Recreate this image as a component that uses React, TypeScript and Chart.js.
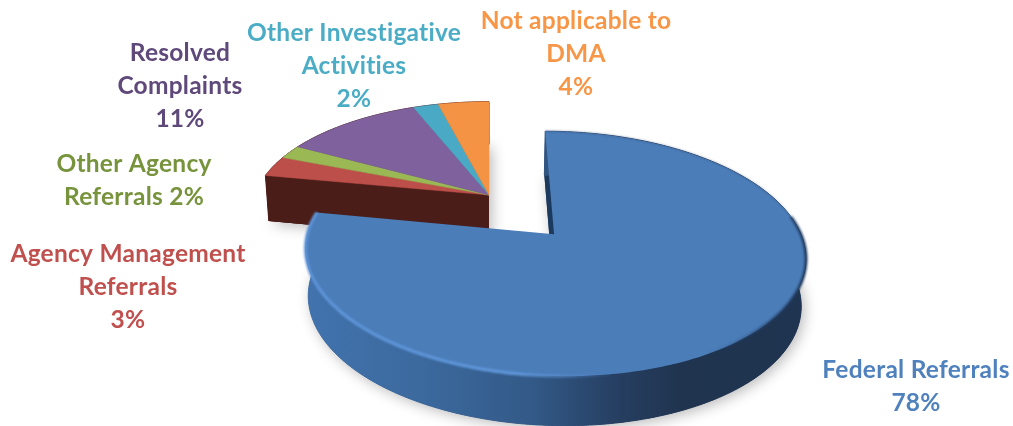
import React, { useEffect, useRef } from "react";
import { Chart, registerables } from "chart.js";

Chart.register(...registerables);

const categories = [
  "Federal Referrals",
  "Agency Management Referrals",
  "Other Agency Referrals",
  "Resolved Complaints",
  "Other Investigative Activities",
  "Not applicable to DMA",
];
const percentValues = [78, 3, 2, 11, 2, 4];
const sliceColors = ["#4b7db9", "#bd4f4b", "#9ab955", "#7e619d", "#4aa9c4", "#f39343"];
const labelColors = ["#4f81bd", "#c0504d", "#77933c", "#5f497a", "#4bacc6", "#f79646"];
const labelLines = [
  ["Federal Referrals", "78%"],
  ["Agency Management", "Referrals", "3%"],
  ["Other Agency", "Referrals 2%"],
  ["Resolved", "Complaints", "11%"],
  ["Other Investigative", "Activities", "2%"],
  ["Not applicable to", "DMA", "4%"],
];

const WIDTH = 1013;
const HEIGHT = 426;
const labelAnchors = [
  { x: 916, y: 370 },
  { x: 128, y: 254 },
  { x: 134, y: 164 },
  { x: 180, y: 53 },
  { x: 354, y: 33 },
  { x: 576, y: 21 },
];
const view = { x0: 489, y0: 195, a: 234, b: 107.3, k: 0.15, shrink: 0.985, depth: 46, explodeY: 1.09 };
const LINE_H = 32.8;

function project(u: number, v: number, z: number) {
  const w = 1 - view.k * v;
  const s = z ? view.shrink : 1;
  return {
    x: view.x0 + (view.a * s * u) / w,
    y: view.y0 + (view.b * s * v) / w + z * view.depth * (1 + 0.1 * v),
  };
}

function geometry(el: any) {
  const R = el.outerRadius;
  const mid = (el.startAngle + el.endAngle) / 2;
  const off = el.options.offset || 0;
  const cu = (Math.cos(mid) * off) / R;
  const cv = ((Math.sin(mid) * off) / R) * view.explodeY;
  const at = (angle: number, z: number) => project(cu + Math.cos(angle), cv + Math.sin(angle), z);
  return { at, apex: (z: number) => project(cu, cv, z), start: el.startAngle, end: el.endAngle };
}

function rimPath(ctx: CanvasRenderingContext2D, g: any, from: number, to: number, z: number, move = true) {
  const steps = Math.max(2, Math.ceil(Math.abs(to - from) / 0.015));
  for (let i = 0; i <= steps; i++) {
    const p = g.at(from + ((to - from) * i) / steps, z);
    if (i === 0 && move) ctx.moveTo(p.x, p.y);
    else ctx.lineTo(p.x, p.y);
  }
}

function slicePath(ctx: CanvasRenderingContext2D, g: any, z: number) {
  ctx.beginPath();
  const a = g.apex(z);
  ctx.moveTo(a.x, a.y);
  rimPath(ctx, g, g.start, g.end, z, false);
  ctx.closePath();
}

function fillRimWall(ctx: CanvasRenderingContext2D, g: any, style: any) {
  ctx.fillStyle = style;
  ctx.strokeStyle = style;
  ctx.lineWidth = 1;
  ctx.beginPath();
  rimPath(ctx, g, g.start, g.end, 0);
  rimPath(ctx, g, g.end, g.start, 1, false);
  ctx.closePath();
  ctx.fill();
  ctx.stroke();
}

function fillRadialWall(ctx: CanvasRenderingContext2D, g: any, angle: number, style: string) {
  const a0 = g.apex(0);
  const a1 = g.apex(1);
  const r0 = g.at(angle, 0);
  const r1 = g.at(angle, 1);
  ctx.fillStyle = style;
  ctx.beginPath();
  ctx.moveTo(a0.x, a0.y);
  ctx.lineTo(r0.x, r0.y);
  ctx.lineTo(r1.x, r1.y);
  ctx.lineTo(a1.x, a1.y);
  ctx.closePath();
  ctx.fill();
}

function castShadow(ctx: CanvasRenderingContext2D, g: any, color: string) {
  ctx.save();
  ctx.shadowColor = "rgba(0,0,0,0.28)";
  ctx.shadowBlur = 14;
  ctx.shadowOffsetX = 3;
  ctx.shadowOffsetY = 3;
  ctx.fillStyle = color;
  slicePath(ctx, g, 1);
  ctx.fill();
  ctx.restore();
}

const pie3d = {
  id: "pie3d",
  beforeDatasetsDraw(chart: any) {
    const ctx: CanvasRenderingContext2D = chart.ctx;
    const arcs = chart.getDatasetMeta(0).data;
    const gs = arcs.map(geometry);
    ctx.save();
    ctx.lineJoin = "round";

    const brown = "#4a1d19";
    for (let i = 1; i < gs.length; i++) castShadow(ctx, gs[i], brown);
    for (let i = 1; i < gs.length; i++) {
      fillRimWall(ctx, gs[i], brown);
      slicePath(ctx, gs[i], 1);
      ctx.fillStyle = brown;
      ctx.fill();
    }
    fillRadialWall(ctx, gs[1], gs[1].start, brown);
    for (let i = 1; i < gs.length; i++) {
      slicePath(ctx, gs[i], 0);
      ctx.fillStyle = sliceColors[i];
      ctx.fill();
      ctx.strokeStyle = sliceColors[i];
      ctx.lineWidth = 0.5;
      ctx.stroke();
    }

    const g = gs[0];
    castShadow(ctx, g, "#24406a");
    fillRadialWall(ctx, g, g.start, "#1c3a5e");
    const side = ctx.createLinearGradient(305, 0, 806, 0);
    side.addColorStop(0, "#4273ad");
    side.addColorStop(0.22, "#3c6a9f");
    side.addColorStop(0.45, "#335a88");
    side.addColorStop(0.62, "#263f62");
    side.addColorStop(0.75, "#20344f");
    side.addColorStop(1, "#1f3450");
    fillRimWall(ctx, g, side);

    slicePath(ctx, g, 0);
    ctx.fillStyle = sliceColors[0];
    ctx.fill();

    ctx.save();
    ctx.filter = "blur(0.8px)";
    const bevel = ctx.createLinearGradient(305, 0, 806, 0);
    bevel.addColorStop(0, "#5f96da");
    bevel.addColorStop(0.42, "#629ade");
    bevel.addColorStop(0.62, "rgba(90,140,205,0)");
    bevel.addColorStop(0.8, "rgba(40,70,110,0)");
    bevel.addColorStop(0.93, "rgba(36,62,100,0.7)");
    bevel.addColorStop(1, "#223c60");
    ctx.strokeStyle = bevel;
    ctx.lineWidth = 3;
    ctx.beginPath();
    rimPath(ctx, g, -0.15, g.end, 0);
    ctx.stroke();
    ctx.strokeStyle = "rgba(45,70,105,0.55)";
    ctx.lineWidth = 1;
    ctx.beginPath();
    rimPath(ctx, g, g.start, -0.15, 0);
    ctx.stroke();
    ctx.restore();
    ctx.restore();
    return false;
  },
  afterDraw(chart: any) {
    const ctx: any = chart.ctx;
    ctx.save();
    ctx.font = 'bold 24.5px Lato, "Open Sans", sans-serif';
    ctx.letterSpacing = "0.25px";
    ctx.textAlign = "center";
    ctx.textBaseline = "middle";
    labelLines.forEach((lines, i) => {
      ctx.fillStyle = labelColors[i];
      lines.forEach((line, j) => {
        ctx.fillText(line, labelAnchors[i].x, labelAnchors[i].y + j * LINE_H);
      });
    });
    ctx.restore();
  },
};

export default function App() {
  const ref = useRef<HTMLCanvasElement>(null);
  useEffect(() => {
    const chart = new Chart(ref.current as HTMLCanvasElement, {
      type: "pie",
      data: {
        labels: categories,
        datasets: [
          {
            data: percentValues,
            backgroundColor: sliceColors,
            borderWidth: 0,
            offset: [73, 0, 0, 0, 0, 0],
          },
        ],
      },
      options: {
        responsive: false,
        animation: false,
        plugins: { legend: { display: false }, tooltip: { enabled: false } },
      },
      plugins: [pie3d],
    } as any);
    return () => chart.destroy();
  }, []);
  return (
    <div style={{ position: "absolute", left: 0, top: 0, width: WIDTH, height: HEIGHT, background: "#fff" }}>
      <canvas ref={ref} width={WIDTH} height={HEIGHT} style={{ display: "block" }} />
    </div>
  );
}
